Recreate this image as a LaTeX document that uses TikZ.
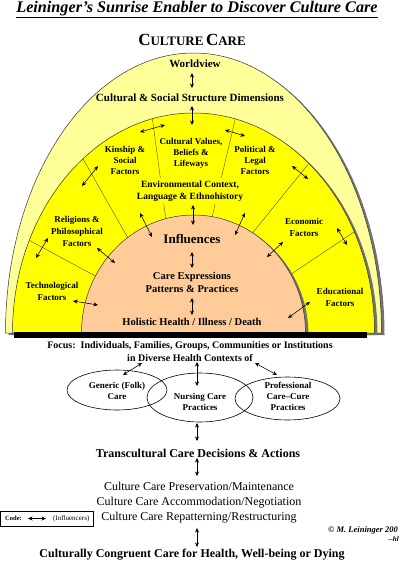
\documentclass[tikz,border=0pt]{standalone}
\usepackage{fontspec}
\setmainfont{Liberation Serif}
\usetikzlibrary{arrows.meta}
\definecolor{paleyel}{HTML}{FFFF99}
\definecolor{sunyel}{HTML}{FFFF00}
\definecolor{peach}{HTML}{FFCC99}
\begin{document}
\begin{tikzpicture}[x=1pt,y=-1pt,
  every node/.style={inner sep=0pt},
  fac/.style={font=\bfseries\fontsize{9}{11}\selectfont, align=center},
  bi/.style={{Stealth[length=4.5pt,width=4pt]}-{Stealth[length=4.5pt,width=4pt]}, line width=0.55pt},
  divline/.style={draw=black!75, line width=0.35pt},
  shade/.style={fill=black!55},
  ring/.style={draw=black!80, line width=0.5pt},
  oval/.style={draw=black, line width=0.6pt}]
\useasboundingbox (0,0) rectangle (400,562);

% --- sunrise bands ---
\fill[shade] (8.5,335) arc[start angle=180,end angle=0,x radius=188pt,y radius=280pt] -- cycle;
\filldraw[fill=paleyel, ring] (5.5,333) arc[start angle=180,end angle=0,x radius=188pt,y radius=280pt] -- cycle;
\fill[shade] (15.5,335) arc[start angle=180,end angle=0,x radius=181pt,y radius=220pt] -- cycle;
\filldraw[fill=sunyel, ring] (12.5,333) arc[start angle=180,end angle=0,x radius=181pt,y radius=220pt] -- cycle;
\begin{scope}
  \clip (12.5,333) arc[start angle=180,end angle=0,x radius=181pt,y radius=220pt] -- cycle;
  \draw[divline] (15,232.6) -- (110,284);
  \draw[divline] (76.3,147) -- (137.5,255);
  \draw[divline] (151,108) -- (168.6,240);
  \draw[divline] (237.4,110) -- (206.7,240);
  \draw[divline] (315.7,155) -- (238.7,250);
  \draw[divline] (365,224.6) -- (275,285);
\end{scope}
\fill[shade] (84.5,335) arc[start angle=180,end angle=0,x radius=112pt,y radius=118pt] -- cycle;
\filldraw[fill=peach, ring] (81.5,333) arc[start angle=180,end angle=0,x radius=112pt,y radius=118pt] -- cycle;
\fill[black] (14,332) rectangle (367,338);

% --- titles ---
\node[font=\bfseries\itshape\fontsize{16.2}{18}\selectfont, anchor=base] (title) at (197,12.3) {\underline{Leininger’s Sunrise Enabler to Discover Culture Care}};
\node[font=\bfseries, anchor=base] (cc) at (192,45) {{\fontsize{17}{17}\selectfont C}{\fontsize{13}{13}\selectfont ULTURE} {\fontsize{17}{17}\selectfont C}{\fontsize{13}{13}\selectfont ARE}};

% --- labels in the sunrise ---
\node[font=\bfseries\fontsize{11}{13}\selectfont] (wv) at (195,64) {Worldview};
\node[font=\bfseries\fontsize{11}{13}\selectfont] (css) at (190,98) {Cultural \& Social Structure Dimensions};
\node[fac] (kin) at (125,160) {Kinship \&\\Social\\Factors};
\node[fac] (cv) at (191,153) {Cultural Values,\\Beliefs \&\\Lifeways};
\node[fac] (pol) at (255,160) {Political \&\\Legal\\Factors};
\node[fac, font=\bfseries\fontsize{9.5}{12}\selectfont, fill=sunyel, inner ysep=3pt] (env) at (190,191) {Environmental Context,\\Language \& Ethnohistory};
\node[fac, font=\bfseries\fontsize{9}{12}\selectfont] (rel) at (77,231) {Religions \&\\Philosophical\\Factors};
\node[fac, font=\bfseries\fontsize{9}{12}\selectfont] (eco) at (304,227) {Economic\\Factors};
\node[fac, font=\bfseries\fontsize{9}{12}\selectfont] (tech) at (52,291) {Technological\\Factors};
\node[fac, font=\bfseries\fontsize{9}{12}\selectfont] (edu) at (340,297) {Educational\\Factors};
\node[font=\bfseries\fontsize{13}{15}\selectfont] (infl) at (192,239) {Influences};
\node[font=\bfseries\fontsize{10.5}{13}\selectfont, align=center] (cexp) at (192,282.5) {Care Expressions\\Patterns \& Practices};
\node[font=\bfseries\fontsize{10.5}{13}\selectfont] (hol) at (192,322) {Holistic Health / Illness / Death};

% --- arrows in the sunrise ---
\coordinate (a1s) at (192,73);   \coordinate (a1e) at (192,88);
\coordinate (a2s) at (192,106);  \coordinate (a2e) at (192,125);
\coordinate (a3s) at (140,132);  \coordinate (a3e) at (165,125);
\coordinate (a4s) at (225,130);  \coordinate (a4e) at (245,136);
\coordinate (a5s) at (82,186);   \coordinate (a5e) at (98,166);
\coordinate (a6s) at (292,166);  \coordinate (a6e) at (308,179);
\coordinate (a7s) at (36,258);   \coordinate (a7e) at (48,238);
\coordinate (a8s) at (337,228);  \coordinate (a8e) at (347,245);
\coordinate (a9s) at (140,213);  \coordinate (a9e) at (152,237);
\coordinate (a10s) at (193,205); \coordinate (a10e) at (193,225);
\coordinate (a11s) at (245,213); \coordinate (a11e) at (235,235);
\coordinate (a12s) at (97,248);  \coordinate (a12e) at (115,263);
\coordinate (a13s) at (283,242); \coordinate (a13e) at (267,257);
\coordinate (a14s) at (73,301);  \coordinate (a14e) at (98,305);
\coordinate (a15s) at (310,302); \coordinate (a15e) at (288,318);
\coordinate (a16s) at (192,252); \coordinate (a16e) at (192,268);
\coordinate (a17s) at (192,298); \coordinate (a17e) at (192,315);
\foreach \i in {1,...,17} { \draw[bi] (a\i s) -- (a\i e); }

% --- lower part ---
\node[font=\bfseries\fontsize{10}{13}\selectfont, align=center] (focus) at (190,351.5) {Focus:\ \ Individuals, Families, Groups, Communities or Institutions\\in Diverse Health Contexts of};
\draw[oval] (117,390) ellipse[x radius=50pt, y radius=20pt];
\draw[oval] (200,397.5) ellipse[x radius=53pt, y radius=24.5pt];
\draw[oval] (287.5,398.5) ellipse[x radius=52.5pt, y radius=21.5pt];
\node[fac, font=\bfseries\fontsize{9}{11}\selectfont] (gen) at (117,390.5) {Generic (Folk)\\Care};
\node[fac, font=\bfseries\fontsize{9}{11}\selectfont] (nur) at (200,401.5) {Nursing Care\\Practices};
\node[fac, font=\bfseries\fontsize{9}{11}\selectfont] (pro) at (288,396) {Professional\\Care–Cure\\Practices};
\node[font=\bfseries\fontsize{12}{14}\selectfont] (tcd) at (198,453) {Transcultural Care Decisions \& Actions};
\node[font=\fontsize{12}{15}\selectfont, align=center] (ccm) at (199,503) {Culture Care Preservation/Maintenance\\Culture Care Accommodation/Negotiation\\Culture Care Repatterning/Restructuring};
\node[font=\bfseries\fontsize{12}{14}\selectfont] (ccc) at (192,555) {Culturally Congruent Care for Health, Well-being or Dying};

\coordinate (b1s) at (142,363); \coordinate (b1e) at (123,375);
\coordinate (b2s) at (197,362); \coordinate (b2e) at (197,386);
\coordinate (b3s) at (255,363); \coordinate (b3e) at (277,375);
\coordinate (b4s) at (197,423); \coordinate (b4e) at (197,441);
\coordinate (b5s) at (197,458); \coordinate (b5e) at (197,476);
\coordinate (b6s) at (197,528); \coordinate (b6e) at (197,547);
\foreach \i in {1,...,6} { \draw[bi] (b\i s) -- (b\i e); }

% --- code box ---
\draw[line width=0.5pt] (0.5,511) rectangle (93,526);
\node[font=\bfseries\fontsize{6.5}{8}\selectfont, anchor=west] (code) at (5,518.5) {Code:};
\coordinate (cds) at (28,518.5); \coordinate (cde) at (46,518.5);
\draw[bi] (cds) -- (cde);
\node[font=\fontsize{7}{8}\selectfont, anchor=west] (infl2) at (53,518.5) {(Influencers)};

\node[font=\bfseries\itshape\fontsize{8.5}{10}\selectfont, anchor=west] (copy) at (328,530) {© M. Leininger 200};
\node[font=\bfseries\itshape\fontsize{7}{9}\selectfont, anchor=east] (hl) at (399,539) {-{}-hl};
\end{tikzpicture}
\end{document}
